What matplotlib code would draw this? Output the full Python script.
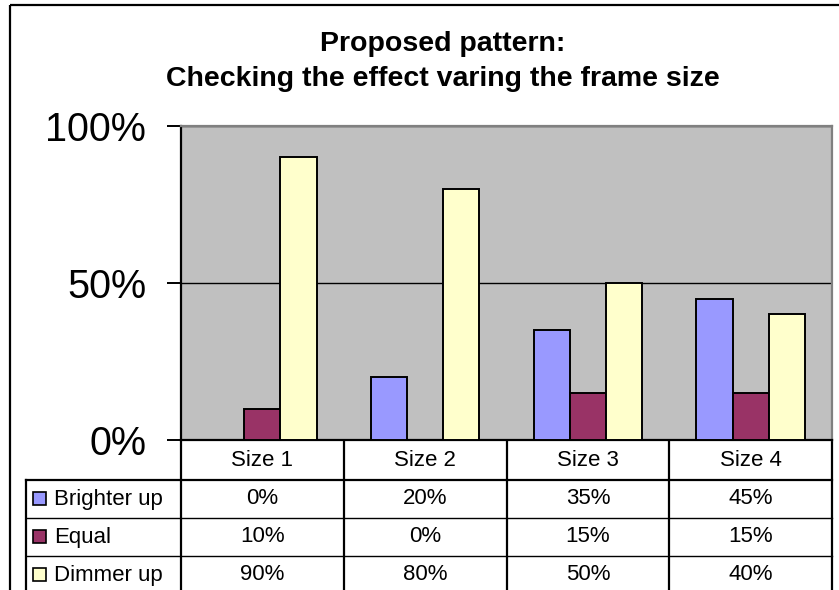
import matplotlib

matplotlib.use("Agg")
import matplotlib.pyplot as plt
import numpy as np
from matplotlib.patches import Rectangle

plt.rcParams["font.family"] = ["Liberation Sans", "DejaVu Sans"]

# data
categories = ["Size 1", "Size 2", "Size 3", "Size 4"]
series_names = ["Brighter up", "Equal", "Dimmer up"]
brighter = [0, 20, 35, 45]
equal = [10, 0, 15, 15]
dimmer = [90, 80, 50, 40]
series_values = [brighter, equal, dimmer]
series_colors = ["#9999FF", "#993366", "#FFFFCC"]
yticks = [0, 50, 100]
title_lines = ["Proposed pattern:", "Checking the effect varing the frame size"]

W, H = 839, 590
fig = plt.figure(figsize=(W / 100, H / 100), dpi=100)

# plot area in pixels
px_l, px_r, px_t, px_b = 181, 832, 126, 440
ax = fig.add_axes([px_l / W, 1 - px_b / H, (px_r - px_l) / W, (px_b - px_t) / H], zorder=2)
ax.set_facecolor("#C0C0C0")

n = len(categories)
w = 1 / 4.5
x = np.arange(n) + 0.5
for i, (vals, col) in enumerate(zip(series_values, series_colors)):
    ax.bar(x + (i - 1) * w, vals, width=w, color=col, edgecolor="black",
           linewidth=1.4, zorder=3)

ax.set_xlim(0, n)
ax.set_ylim(0, 100)
ax.set_yticks(yticks)
ax.set_yticklabels([f"{t}%" for t in yticks], fontsize=28.5)
ax.tick_params(axis="y", length=10, width=1.4, pad=15, direction="out")
ax.set_xticks([])
ax.yaxis.grid(True, color="black", linewidth=1.0, zorder=1)
ax.set_axisbelow(True)
for side in ("left", "bottom"):
    ax.spines[side].set_color("black")
    ax.spines[side].set_linewidth(1.6)
for side in ("top", "right"):
    ax.spines[side].set_color("#808080")
    ax.spines[side].set_linewidth(1.6)

# overlay in pixel coordinates for border, title and data table
ov = fig.add_axes([0, 0, 1, 1], zorder=1)
ov.set_xlim(0, W)
ov.set_ylim(H, 0)
ov.axis("off")
ov.patch.set_alpha(0)

ov.add_patch(Rectangle((10, 5), 900, 700, fill=False, edgecolor="black", linewidth=1.6))

ov.text(443, 44, title_lines[0], ha="center", va="center", fontsize=20.5, fontweight="bold")
ov.text(443, 79, title_lines[1], ha="center", va="center", fontsize=20.5, fontweight="bold")

col_x = np.linspace(px_l, px_r, n + 1)
row_y = [440, 480, 518, 556, 594]
lw_thick, lw_thin = 1.6, 1.0
# column separators
for cx in col_x:
    ov.plot([cx, cx], [row_y[0], H + 5], color="black", linewidth=lw_thick)
ov.plot([26, 26], [row_y[1], H + 5], color="black", linewidth=lw_thick)
ov.plot([26, px_r], [row_y[1], row_y[1]], color="black", linewidth=lw_thick)
for ry in row_y[2:4]:
    ov.plot([26, px_r], [ry, ry], color="black", linewidth=lw_thin)

for j, cat in enumerate(categories):
    cx = (col_x[j] + col_x[j + 1]) / 2
    ov.text(cx, (row_y[0] + row_y[1]) / 2, cat, ha="center", va="center", fontsize=16)

for i, (name, vals, col) in enumerate(zip(series_names, series_values, series_colors)):
    cy = (row_y[i + 1] + row_y[i + 2]) / 2
    ov.add_patch(Rectangle((33, cy - 7), 13, 13, facecolor=col, edgecolor="black", linewidth=1.2))
    ov.text(54, cy, name, ha="left", va="center", fontsize=16)
    for j, v in enumerate(vals):
        cx = (col_x[j] + col_x[j + 1]) / 2
        ov.text(cx, cy, f"{v}%", ha="center", va="center", fontsize=16)

fig.savefig("out.png", dpi=100)
